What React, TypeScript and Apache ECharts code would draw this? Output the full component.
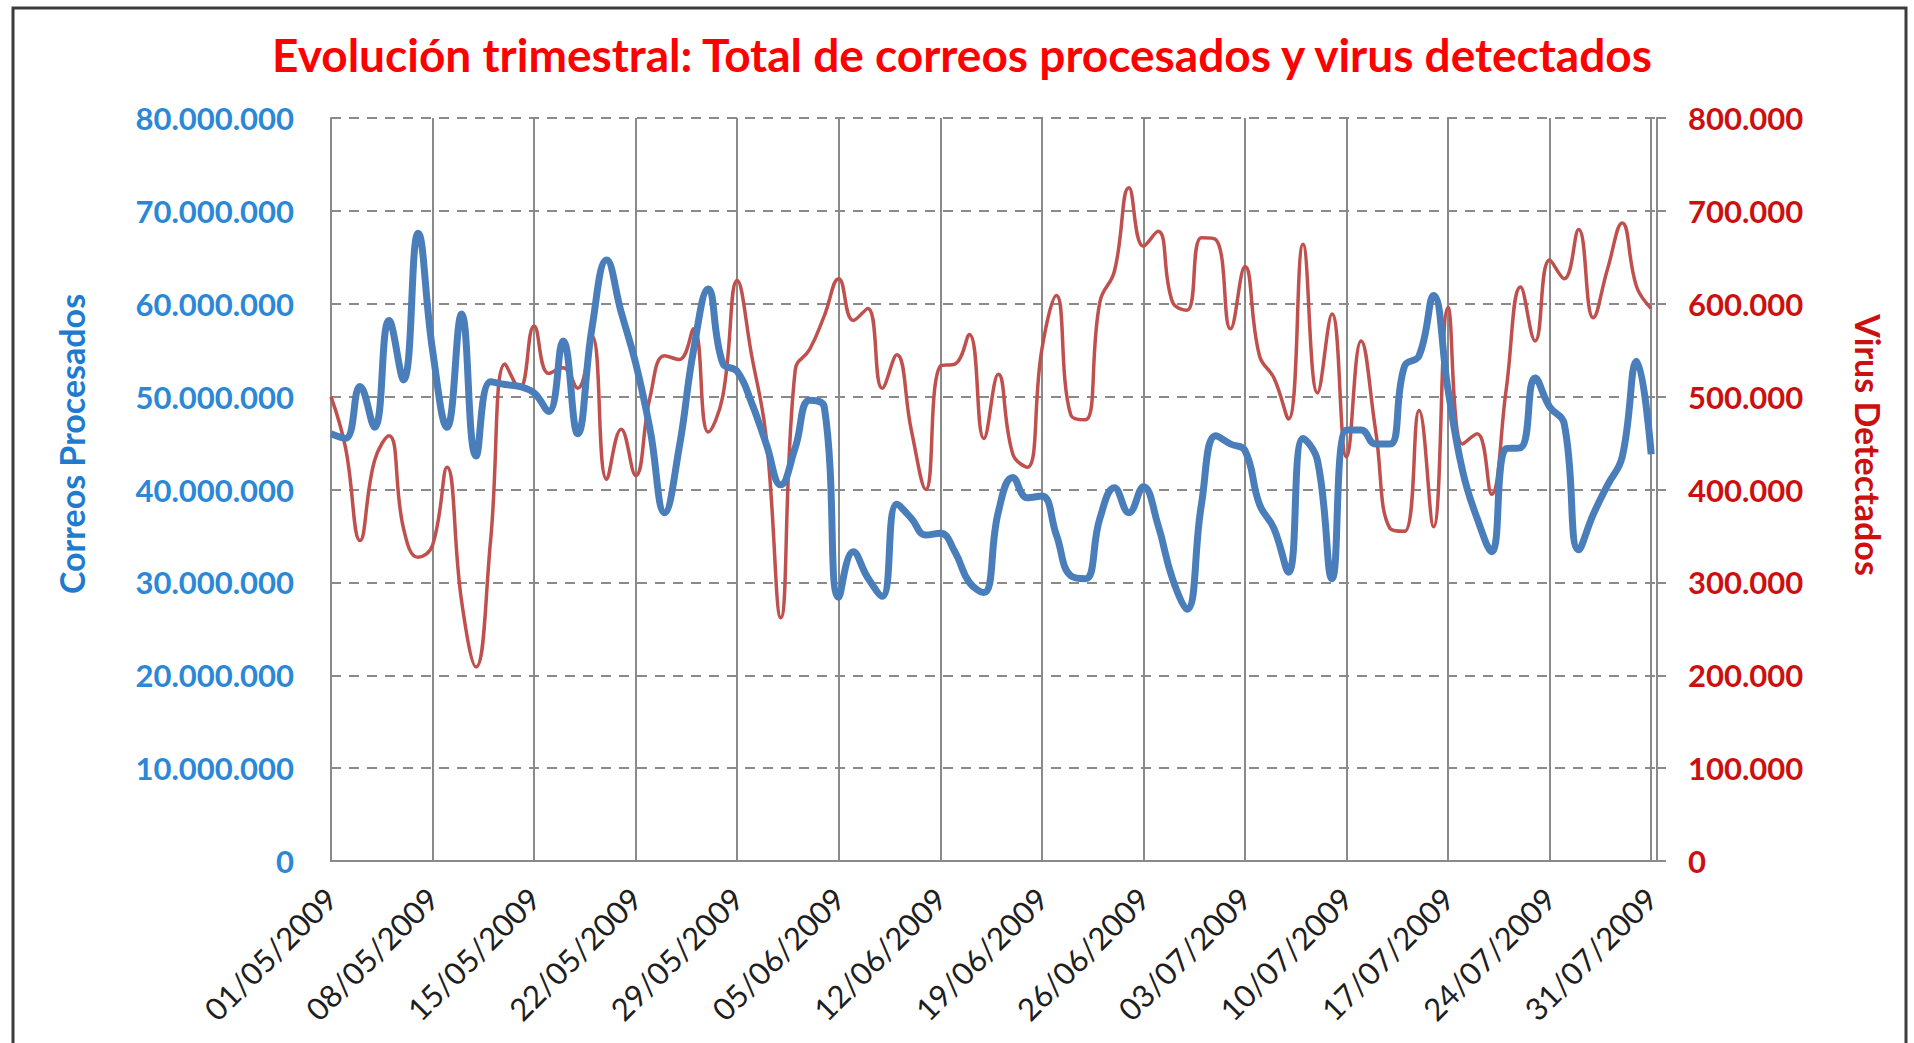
import React, { useEffect, useRef } from "react";
import * as echarts from "echarts";

const dates: string[] = (() => {
  const out: string[] = [];
  const months = [
    { m: "05", days: 31 },
    { m: "06", days: 30 },
    { m: "07", days: 31 },
  ];
  for (const { m, days } of months) {
    for (let d = 1; d <= days; d++) out.push(`${String(d).padStart(2, "0")}/${m}/2009`);
  }
  return out;
})();

// Correos procesados (millones)
const correosMillones: number[] = [
  46.0, 45.5, 51.1, 46.7, 58.2, 51.8, 67.6, 55.0, 46.7, 58.9,
  43.6, 51.6, 51.3, 51.1, 50.4, 48.4, 56.0, 46.0, 57.5, 64.7,
  59.1, 53.6, 46.4, 37.5, 44.5, 55.1, 61.6, 53.6, 52.7, 49.3,
  44.9, 40.5, 44.5, 49.6, 48.9, 28.4, 33.3, 30.5, 28.5, 38.4,
  36.9, 35.1, 35.3, 33.3, 30.0, 28.9, 37.6, 41.3, 39.1, 39.3,
  35.1, 30.7, 30.4, 36.9, 40.2, 37.5, 40.3, 36.2, 30.4, 27.1,
  38.4, 45.8, 44.9, 44.2, 38.4, 35.8, 31.1, 45.5, 43.1, 30.4,
  46.4, 46.4, 44.9, 44.9, 53.3, 54.4, 60.9, 50.7, 42.0, 36.9,
  33.3, 44.4, 44.5, 52.0, 48.9, 47.1, 33.5, 37.3, 40.5, 43.5,
  53.8, 43.8,
];

// Virus detectados (miles)
const virusMiles: number[] = [
  500, 445, 345, 431, 458, 358, 327, 340, 424, 280,
  209, 345, 535, 509, 576, 525, 531, 509, 565, 411,
  465, 415, 500, 544, 540, 573, 462, 500, 625, 544,
  456, 262, 529, 551, 587, 627, 582, 595, 509, 545,
  464, 400, 533, 535, 567, 455, 524, 438, 424, 551,
  609, 480, 475, 602, 635, 725, 662, 678, 602, 593,
  671, 669, 573, 640, 544, 520, 476, 664, 504, 589,
  435, 560, 464, 358, 355, 485, 360, 596, 449, 460,
  395, 507, 618, 560, 647, 627, 680, 585, 638, 687,
  618, 595,
];

const titleText = "Evolución trimestral: Total de correos procesados y virus detectados";
const leftAxisTitle = "Correos Procesados";
const rightAxisTitle = "Virus Detectados";

const fmt = (v: number) => String(Math.round(v)).replace(/\B(?=(\d{3})+(?!\d))/g, ".");

const FONT = "Lato, 'Open Sans', sans-serif";

export default function App() {
  const ref = useRef<HTMLDivElement>(null);
  useEffect(() => {
    if (!ref.current) return;
    const chart = echarts.init(ref.current, undefined, { renderer: "svg" });
    const blueData = correosMillones.map((v, i) => [i, v * 1e6]);
    const redData = virusMiles.map((v, i) => [i, v * 1e3]);
    const gridColor = "#8a8a8a";
    chart.setOption({
      animation: false,
      backgroundColor: "#ffffff",
      grid: { left: 331, right: 257, top: 118, bottom: 182, containLabel: false },
      xAxis: {
        type: "value",
        min: 0,
        max: 91.4,
        interval: 7,
        axisLine: { show: true, lineStyle: { color: gridColor, width: 2 } },
        axisTick: { show: false },
        splitLine: { show: true, lineStyle: { color: gridColor, width: 2, type: "solid" } },
        axisLabel: {
          rotate: 45,
          margin: 32,
          fontFamily: FONT,
          fontSize: 31,
          color: "#1e1e1e",
          showMaxLabel: false,
          formatter: (v: number) => (Number.isInteger(v) && v % 7 === 0 ? dates[v] : ""),
        },
      },
      yAxis: [
        {
          type: "value",
          min: 0,
          max: 80000000,
          interval: 10000000,
          position: "left",
          axisLine: { show: true, lineStyle: { color: gridColor, width: 2 } },
          axisTick: { show: false },
          splitLine: { show: true, lineStyle: { color: gridColor, width: 2, type: [10, 8] } },
          axisLabel: {
            margin: 37,
            fontFamily: FONT,
            fontSize: 31,
            fontWeight: "bold",
            color: "#2a88d6",
            formatter: fmt,
          },
        },
        {
          type: "value",
          min: 0,
          max: 800000,
          interval: 100000,
          position: "right",
          axisLine: { show: true, lineStyle: { color: gridColor, width: 2 } },
          axisTick: { show: true, length: 9, lineStyle: { color: gridColor, width: 2 } },
          splitLine: { show: false },
          axisLabel: {
            margin: 31,
            fontFamily: FONT,
            fontSize: 31,
            fontWeight: "bold",
            color: "#cc1010",
            formatter: fmt,
          },
        },
      ],
      series: [
        {
          name: "Virus Detectados",
          type: "line",
          yAxisIndex: 1,
          data: redData,
          smooth: 0.45,
          showSymbol: false,
          lineStyle: { color: "#c0504d", width: 3.5 },
          z: 3,
        },
        {
          name: "Correos Procesados",
          type: "line",
          yAxisIndex: 0,
          data: blueData,
          smooth: 0.45,
          showSymbol: false,
          lineStyle: { color: "#4a7ebb", width: 7 },
          z: 4,
        },
      ],
      graphic: [
        {
          type: "rect",
          shape: { x: 13, y: 8, width: 1893, height: 1100 },
          style: { fill: "none", stroke: "#3c3c3c", lineWidth: 3 },
          z: 10,
        },
        {
          type: "text",
          x: 962,
          y: 54,
          style: {
            text: titleText,
            align: "center",
            verticalAlign: "middle",
            fill: "#ff0000",
            font: `bold 46px ${FONT}`,
          },
        },
        {
          type: "text",
          x: 71,
          y: 444,
          rotation: Math.PI / 2,
          style: {
            text: leftAxisTitle,
            align: "center",
            verticalAlign: "middle",
            fill: "#1f7bd0",
            font: `bold 34px ${FONT}`,
          },
        },
        {
          type: "text",
          x: 1868,
          y: 445,
          rotation: -Math.PI / 2,
          style: {
            text: rightAxisTitle,
            align: "center",
            verticalAlign: "middle",
            fill: "#cc1010",
            font: `bold 34px ${FONT}`,
          },
        },
      ],
    });
    return () => chart.dispose();
  }, []);
  return (
    <div
      ref={ref}
      style={{ position: "fixed", left: 0, top: 0, width: 1914, height: 1043, background: "#fff" }}
    />
  );
}
